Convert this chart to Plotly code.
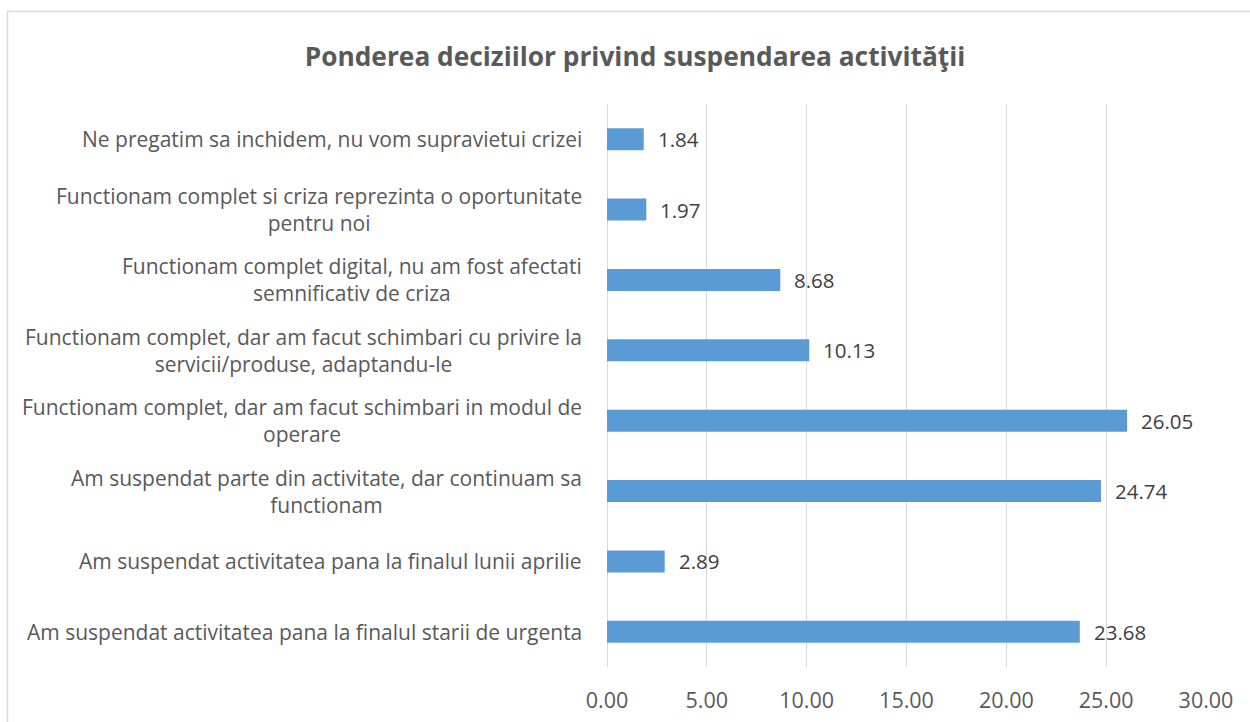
import plotly.graph_objects as go

categories = [
    "Am suspendat activitatea pana la finalul starii de urgenta",
    "Am suspendat activitatea pana la finalul lunii aprilie",
    "Am suspendat parte din activitate, dar continuam sa<br>functionam",
    "Functionam complet, dar am facut schimbari in modul de<br>operare",
    "Functionam complet, dar am facut schimbari cu privire la<br>servicii/produse, adaptandu-le",
    "Functionam complet digital, nu am fost afectati<br>semnificativ de criza",
    "Functionam complet si criza reprezinta o oportunitate<br>pentru noi",
    "Ne pregatim sa inchidem, nu vom supravietui crizei",
]
values = [23.68, 2.89, 24.74, 26.05, 10.13, 8.68, 1.97, 1.84]
tick_vals = [0, 5, 10, 15, 20, 25, 30]

FONT = "Open Sans"
TXT = "#595959"

fig = go.Figure()
fig.add_trace(go.Bar(
    x=values, y=categories, orientation="h",
    marker=dict(color="#5B9BD5", line=dict(width=0)),
    hoverinfo="x+y",
))

annotations = []
for c in categories:
    annotations.append(dict(
        x=-0.0384, xref="paper", y=c, yref="y",
        text=c, showarrow=False, xanchor="right", yanchor="middle",
        align="center", font=dict(family=FONT, size=21, color=TXT),
    ))
for c, v in zip(categories, values):
    annotations.append(dict(
        x=v, xref="x", y=c, yref="y", text=f"{v:.2f}", showarrow=False,
        xanchor="left", yanchor="middle", xshift=12,
        font=dict(family=FONT, size=20.5, color="#404040"),
    ))

fig.update_layout(
    width=1250, height=722,
    margin=dict(l=607, r=44, t=104, b=55, autoexpand=False),
    paper_bgcolor="white", plot_bgcolor="white",
    bargap=0.6875,
    showlegend=False,
    title=dict(
        text="<b>Ponderea deciziilor privind suspendarea activităţii</b>",
        x=0.508, xref="container", xanchor="center",
        y=1 - 57 / 722, yref="container", yanchor="middle",
        font=dict(family=FONT, size=26.3, color=TXT),
    ),
    xaxis=dict(
        range=[0, 30], tickvals=tick_vals, tickformat=".2f",
        showgrid=True, gridcolor="#D9D9D9", gridwidth=1.3,
        zeroline=True, zerolinecolor="#D9D9D9", zerolinewidth=1.3,
        showline=False, ticks="outside", ticklen=14, tickcolor="rgba(0,0,0,0)",
        tickfont=dict(family=FONT, size=21.5, color=TXT), fixedrange=True,
        automargin=False,
    ),
    yaxis=dict(
        showticklabels=False, showgrid=False, zeroline=False, showline=False,
        ticks="", fixedrange=True, automargin=False,
    ),
    annotations=annotations,
    shapes=[dict(
        type="rect", xref="paper", yref="paper",
        x0=(7.5 - 607) / 599, x1=(1270 - 607) / 599,
        y0=(667 - 740) / 563, y1=(667 - 11.5) / 563,
        line=dict(color="#D9D9D9", width=1.5), fillcolor="rgba(0,0,0,0)",
        layer="below",
    )],
)

fig.write_html("out.html", config={"displayModeBar": False},
               post_script="document.body.style.margin='0';")
